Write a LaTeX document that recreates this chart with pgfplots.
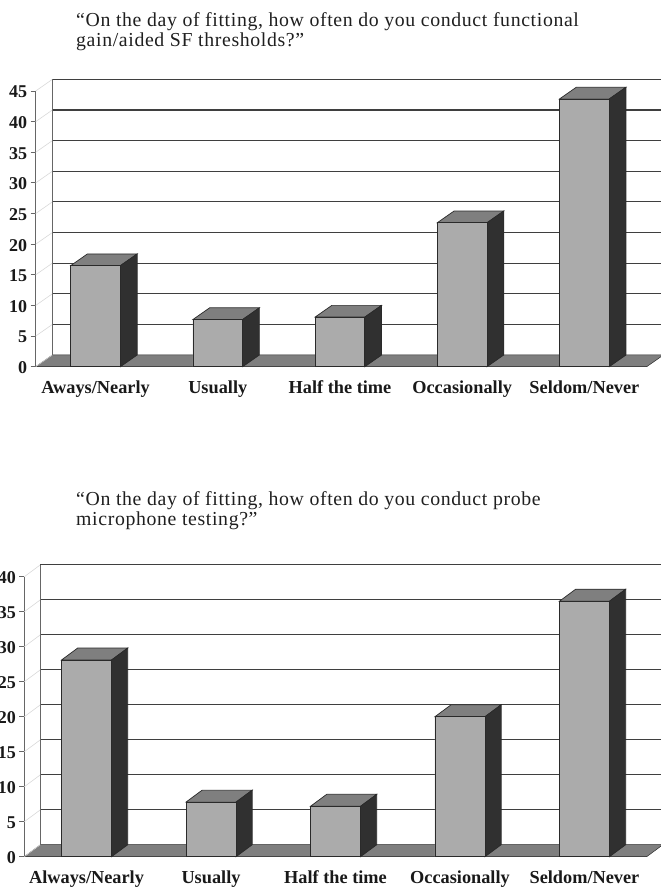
\documentclass[border=0pt]{standalone}
\usepackage{pgfplots}
\usepackage{pgfplotstable}
\usepackage{fontspec}
\setmainfont{Liberation Serif}
\newfontfamily\titlefont[LetterSpace=3.2]{Liberation Serif}
\pgfplotsset{compat=1.18}

\definecolor{frontface}{HTML}{ABABAB}
\definecolor{topface}{HTML}{7F7F7F}
\definecolor{sideface}{HTML}{303030}
\definecolor{edge}{HTML}{2A2A2A}
\definecolor{gridcol}{HTML}{3F3F3F}
\definecolor{axiscol}{HTML}{666666}
\definecolor{depthcol}{HTML}{D8D8D8}

% Survey responses: bar centre (in category units) and percentage
\pgfplotstableread{
pos  value
0.49 16.5
1.49 7.7
2.49 8.1
3.49 23.5
4.49 43.7
}\gainresponses
\pgfplotstableread{
pos  value
0.50 28.1
1.50 7.8
2.50 7.2
3.50 20.0
4.50 36.5
}\proberesponses

\pgfplotsset{
  surveyaxis/.style={
    scale only axis, clip=false,
    axis lines=left, axis line style={-, draw=axiscol, line width=0.9pt},
    xmin=0, xmax=5, ymin=0,
    ytick distance=5,
    xticklabel style={font=\fontsize{18.3}{20}\selectfont\bfseries, text=black!90,
      text height=12.5pt, text depth=4pt, yshift=-5.5pt},
    yticklabel style={font=\fontsize{18}{20}\selectfont\bfseries, text=black!90, yshift=-1pt},
    /pgf/number format/assume math mode=true,
    minor xtick={0,1,2,3,4,5},
    major tick length=5pt,
    minor tick length=4pt,
    ytick style={draw=axiscol, line width=0.8pt},
    xtick style={draw=none},
    minor tick style={draw=axiscol, line width=0.8pt},
    tick align=outside,
  }
}

% Back wall, floor and depth lines of the chart box
% #1 depth in x, #2 depth in y, #3 top value
\newcommand{\chartbox}[3]{%
  \pgfmathsetmacro{\xb}{#1}%
  \pgfmathsetmacro{\yb}{#2}%
  \pgfmathsetmacro{\xr}{5+#1}%
  \pgfmathsetmacro{\yt}{#3+#2}%
  \edef\temp{\noexpand\addplot[fill=topface, draw=edge, line width=0.5pt]
    coordinates {(0,0) (\xb,\yb) (\xr,\yb) (5,0)} -- cycle;}\temp
  \pgfplotsforeachungrouped \v in {0,5,...,#3}{%
    \pgfmathsetmacro{\yg}{\v+#2}%
    \edef\temp{\noexpand\addplot[draw=depthcol, line width=0.6pt]
      coordinates {(0,\v) (\xb,\yg)};}\temp
    \ifnum\v>0
      \edef\temp{\noexpand\addplot[draw=gridcol, line width=1.15pt]
        coordinates {(\xb,\yg) (\xr,\yg)};}\temp
    \fi
  }%
  \edef\temp{\noexpand\addplot[draw=axiscol, line width=0.9pt]
    coordinates {(\xb,\yb) (\xb,\yt)};}\temp
}

% Top and side faces of each bar
% #1 table, #2 bar width in category units, #3 depth in x, #4 depth in y
\newcommand{\barfaces}[4]{%
  \pgfplotsforeachungrouped \i in {0,...,4}{%
    \pgfplotstablegetelem{\i}{pos}\of{#1}\let\bpos\pgfplotsretval
    \pgfplotstablegetelem{\i}{value}\of{#1}\let\bval\pgfplotsretval
    \pgfmathsetmacro{\xl}{\bpos-#2/2}%
    \pgfmathsetmacro{\xr}{\bpos+#2/2}%
    \pgfmathsetmacro{\xlb}{\xl+#3}%
    \pgfmathsetmacro{\xrb}{\xr+#3}%
    \pgfmathsetmacro{\yb}{\bval+#4}%
    \edef\temp{\noexpand\addplot[fill=topface, draw=edge, line width=0.7pt]
      coordinates {(\xl,\bval) (\xlb,\yb) (\xrb,\yb) (\xr,\bval)} -- cycle;}\temp
    \edef\temp{\noexpand\addplot[fill=sideface, draw=edge, line width=0.7pt]
      coordinates {(\xr,0) (\xrb,#4) (\xrb,\yb) (\xr,\bval)} -- cycle;}\temp
  }%
}

\begin{document}
\begin{tikzpicture}[x=1pt,y=1pt]
\path[use as bounding box] (0,0) rectangle (661,887);
\clip (0,0) rectangle (661,887);

\node[anchor=base west, font=\titlefont\fontsize{19.8}{22}\selectfont, text=black!88, inner sep=0pt] at (76,860)
  {“On the day of fitting, how often do you conduct functional};
\node[anchor=base west, font=\titlefont\fontsize{19.8}{22}\selectfont, text=black!88, inner sep=0pt] at (76,840)
  {gain/aided SF thresholds?”};

\begin{axis}[surveyaxis,
  at={(35.7pt,520.3pt)}, anchor=south west,
  width=611pt, height=275.7pt, ymax=45,
  xtick={0.49,1.49,2.49,3.49,4.49},
  xticklabels={Aways/Nearly, Usually, Half the time, Occasionally, Seldom/Never},
]
  \chartbox{0.137}{1.91}{45}
  \barfaces{\gainresponses}{0.407}{0.137}{1.91}
  \addplot[ybar, bar width=49.7pt, fill=frontface, draw=edge, line width=0.7pt]
    table[x=pos, y=value] {\gainresponses};
\end{axis}

\node[anchor=base west, font=\titlefont\fontsize{19.8}{22}\selectfont, text=black!88, inner sep=0pt] at (76,381)
  {“On the day of fitting, how often do you conduct probe};
\node[anchor=base west, font=\titlefont\fontsize{19.8}{22}\selectfont, text=black!88, inner sep=0pt] at (76,361)
  {microphone testing?”};

\begin{axis}[surveyaxis,
  at={(24.3pt,30.3pt)}, anchor=south west,
  width=622.4pt, height=280pt, ymax=40,
  xtick={0.5,1.5,2.5,3.5,4.5},
  xticklabels={Always/Nearly, Usually, Half the time, Occasionally, Seldom/Never},
]
  \chartbox{0.13}{1.71}{40}
  \barfaces{\proberesponses}{0.402}{0.13}{1.71}
  \addplot[ybar, bar width=50pt, fill=frontface, draw=edge, line width=0.7pt]
    table[x=pos, y=value] {\proberesponses};
\end{axis}
\end{tikzpicture}
\end{document}
